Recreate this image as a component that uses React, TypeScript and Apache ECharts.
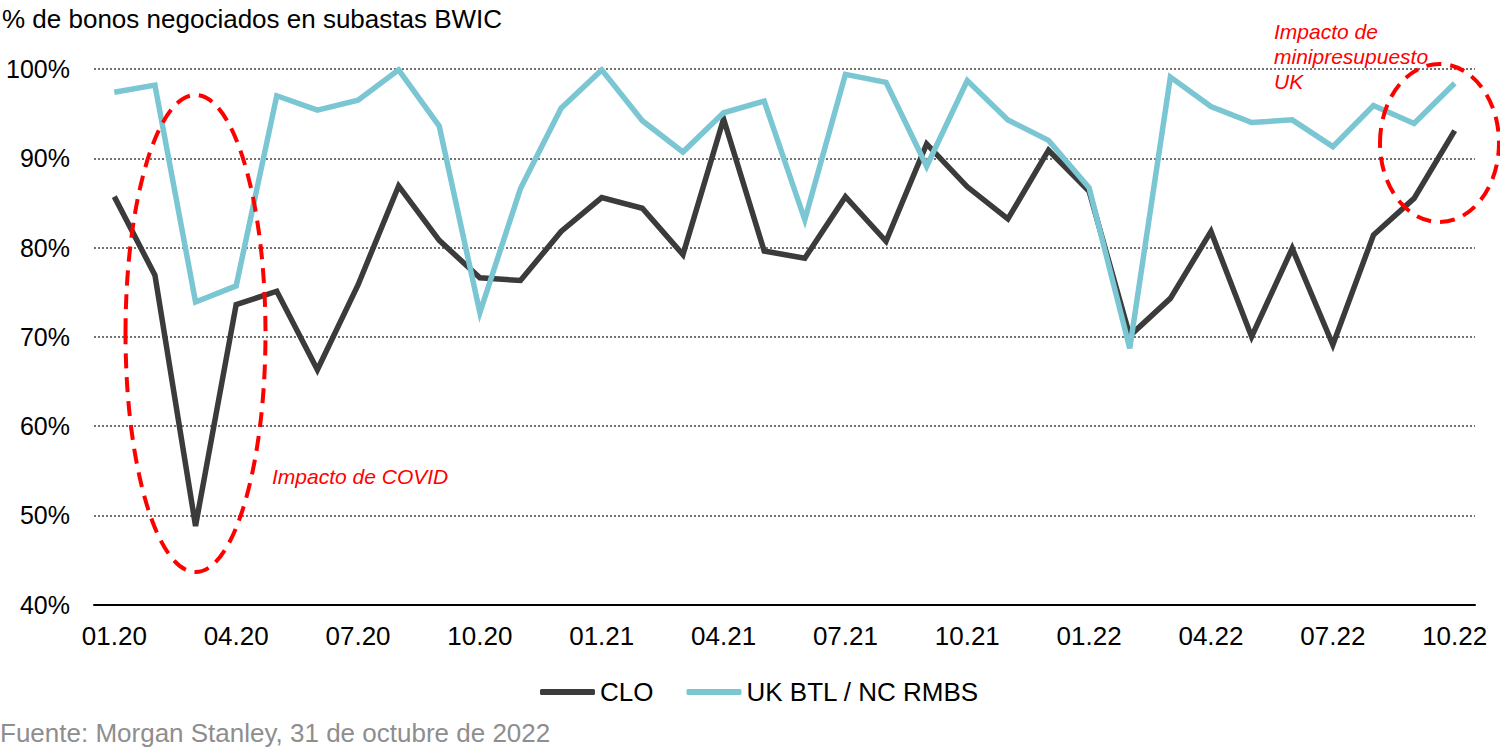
import React, { useEffect, useRef } from "react";
import * as echarts from "echarts";

const months = [
  "01.20", "02.20", "03.20", "04.20", "05.20", "06.20", "07.20", "08.20", "09.20", "10.20", "11.20", "12.20",
  "01.21", "02.21", "03.21", "04.21", "05.21", "06.21", "07.21", "08.21", "09.21", "10.21", "11.21", "12.21",
  "01.22", "02.22", "03.22", "04.22", "05.22", "06.22", "07.22", "08.22", "09.22", "10.22",
];

const cloValues = [
  85.7, 76.9, 48.8, 73.6, 75.1, 66.3, 75.8, 86.9, 80.8, 76.6, 76.3, 81.8,
  85.6, 84.4, 79.2, 94.4, 79.6, 78.8, 85.7, 80.7, 91.6, 86.8, 83.2, 90.9,
  86.3, 70.1, 74.3, 81.8, 70.0, 79.9, 69.1, 81.4, 85.5, 93.1,
];

const ukBtlValues = [
  97.4, 98.2, 73.9, 75.7, 97.0, 95.4, 96.5, 99.9, 93.6, 72.7, 86.6, 95.6,
  99.9, 94.2, 90.7, 95.1, 96.4, 83.1, 99.4, 98.5, 89.1, 98.7, 94.3, 92.0,
  86.7, 68.7, 99.1, 95.8, 94.0, 94.3, 91.3, 95.9, 93.9, 98.4,
];

const seriesNames = ["CLO", "UK BTL / NC RMBS"];
const titleText = "% de bonos negociados en subastas BWIC";
const sourceText = "Fuente: Morgan Stanley, 31 de octubre de 2022";
const covidNote = "Impacto de COVID";
const ukNote = "Impacto de\nminipresupuesto\nUK";

const FONT = "'Liberation Sans', Arial, Helvetica, sans-serif";

export default function App() {
  const ref = useRef<HTMLDivElement>(null);

  useEffect(() => {
    document.body.style.margin = "0";
    if (!ref.current) return;
    const chart = echarts.init(ref.current, undefined, { renderer: "svg" });
    chart.setOption({
      animation: false,
      backgroundColor: "#ffffff",
      textStyle: { fontFamily: FONT },
      grid: { left: 94, right: 25, top: 69, bottom: 145.5, containLabel: false },
      legend: {
        data: seriesNames,
        left: 535,
        top: 674,
        icon: "roundRect",
        itemWidth: 55,
        itemHeight: 6,
        itemGap: 33,
        textStyle: { fontSize: 26, color: "#000", fontFamily: FONT },
      },
      xAxis: {
        type: "category",
        data: months,
        boundaryGap: true,
        axisLine: { show: true, lineStyle: { color: "#000", width: 2 } },
        axisTick: { show: false },
        axisLabel: {
          interval: 2,
          fontSize: 26,
          color: "#000",
          margin: 18,
          fontFamily: FONT,
        },
        splitLine: { show: false },
      },
      yAxis: {
        type: "value",
        min: 40,
        max: 100,
        interval: 10,
        axisLine: { show: false },
        axisTick: { show: false },
        axisLabel: {
          formatter: "{value}%",
          fontSize: 25,
          color: "#000",
          margin: 24,
          fontFamily: FONT,
        },
        splitLine: {
          show: true,
          lineStyle: { color: "#444", width: 1.5, type: [2, 2] },
        },
      },
      series: [
        {
          name: seriesNames[0],
          type: "line",
          data: cloValues,
          symbol: "none",
          lineStyle: { color: "#3b3b3b", width: 5.5, join: "miter" },
          itemStyle: { color: "#3b3b3b" },
          z: 2,
        },
        {
          name: seriesNames[1],
          type: "line",
          data: ukBtlValues,
          symbol: "none",
          lineStyle: { color: "#7ac6d3", width: 5.5, join: "miter" },
          itemStyle: { color: "#7ac6d3" },
          z: 3,
        },
      ],
      graphic: [
        {
          type: "text",
          left: 2,
          top: 6,
          style: { text: titleText, font: `26px ${FONT}`, fill: "#000" },
        },
        {
          type: "text",
          left: 0,
          top: 720,
          style: { text: sourceText, font: `26px ${FONT}`, fill: "#8e8e8e" },
        },
        {
          type: "ellipse",
          shape: { cx: 195.5, cy: 333.5, rx: 70, ry: 238.5 },
          style: { fill: "none", stroke: "#ff0000", lineWidth: 4, lineDash: [15, 9] },
          z: 10,
        },
        {
          type: "ellipse",
          shape: { cx: 1439.5, cy: 143, rx: 59.5, ry: 79 },
          style: { fill: "none", stroke: "#ff0000", lineWidth: 4, lineDash: [15, 9] },
          z: 10,
        },
        {
          type: "text",
          x: 272,
          y: 476,
          style: {
            text: covidNote,
            font: `italic 21px ${FONT}`,
            fill: "#ff0000",
            verticalAlign: "middle",
          },
          z: 10,
        },
        {
          type: "text",
          x: 1274,
          y: 19,
          style: {
            text: ukNote,
            font: `italic 21px ${FONT}`,
            fill: "#ff0000",
            lineHeight: 25,
          },
          z: 10,
        },
      ],
    });
    return () => chart.dispose();
  }, []);

  return <div ref={ref} style={{ width: 1500, height: 750 }} />;
}
